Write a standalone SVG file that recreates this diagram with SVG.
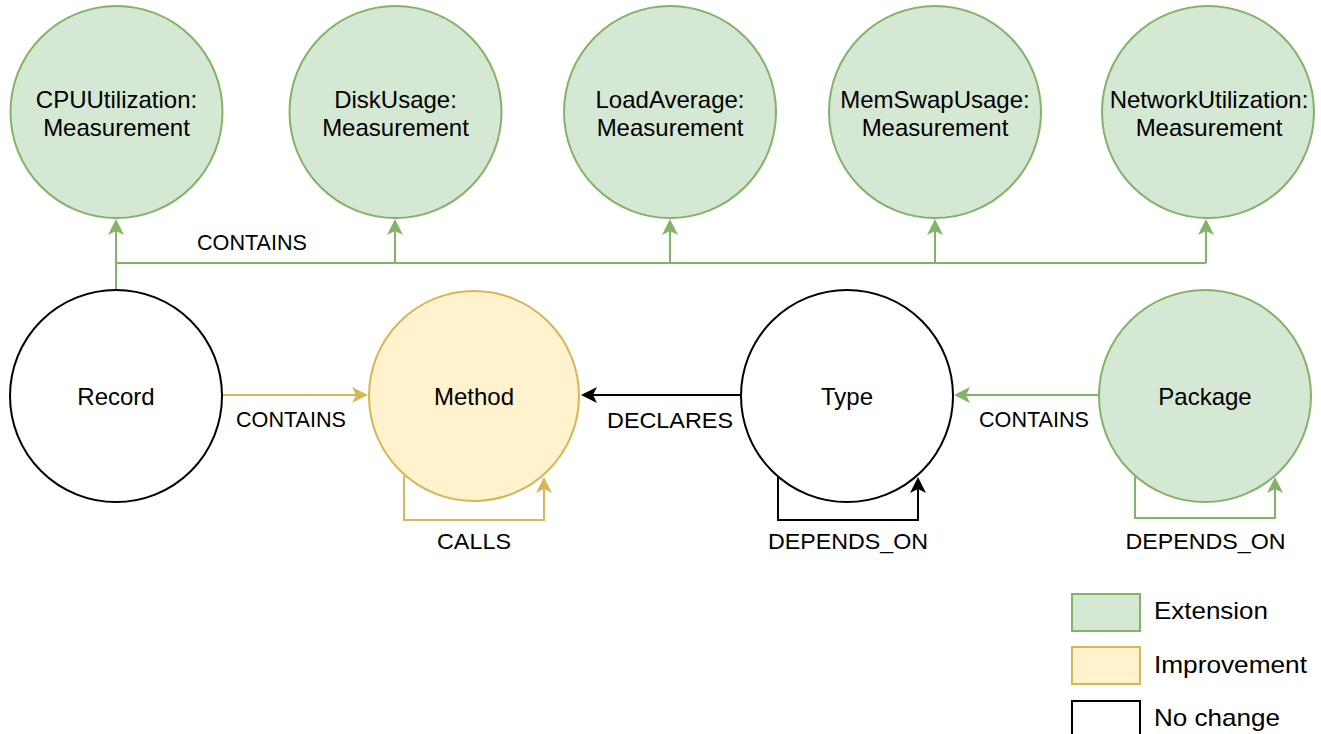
<svg xmlns="http://www.w3.org/2000/svg" width="1321" height="734" viewBox="0 0 1321 734">
<style>
.ext{fill:#d5e8d4;stroke:#82b366;stroke-width:2}
.imp{fill:#fff2cc;stroke:#d6b656;stroke-width:2}
.none{fill:#ffffff;stroke:#000000;stroke-width:2}
.lbl{font-family:"Liberation Sans",Arial,Helvetica,sans-serif;font-size:24px;fill:#000;text-anchor:middle}
.elbl{font-family:"Liberation Sans",Arial,Helvetica,sans-serif;font-size:22px;fill:#000;text-anchor:middle}
.leg{font-family:"Liberation Sans",Arial,Helvetica,sans-serif;font-size:24px;fill:#000}
.eg{fill:none;stroke:#82b366;stroke-width:2}
.ey{fill:none;stroke:#d6b656;stroke-width:2}
.ek{fill:none;stroke:#000000;stroke-width:2}
</style>
<defs>
<marker id="ag" markerUnits="userSpaceOnUse" viewBox="-8 -10 20 20" markerWidth="20" markerHeight="20" refX="0" refY="0" orient="auto">
<path d="M10,0 L-6,-8 L-2,0 L-6,8 Z" fill="#82b366"/>
</marker>
<marker id="ay" markerUnits="userSpaceOnUse" viewBox="-8 -10 20 20" markerWidth="20" markerHeight="20" refX="0" refY="0" orient="auto">
<path d="M10,0 L-6,-8 L-2,0 L-6,8 Z" fill="#d6b656"/>
</marker>
<marker id="ak" markerUnits="userSpaceOnUse" viewBox="-8 -10 20 20" markerWidth="20" markerHeight="20" refX="0" refY="0" orient="auto">
<path d="M10,0 L-6,-8 L-2,0 L-6,8 Z" fill="#000000"/>
</marker>
</defs>

<g id="connectors">
<path class="eg" d="M116,290 V263 H1206"/>
<path class="eg" d="M116,263 V229" marker-end="url(#ag)"/>
<path class="eg" d="M395,263 V229" marker-end="url(#ag)"/>
<path class="eg" d="M670,263 V229" marker-end="url(#ag)"/>
<path class="eg" d="M935,263 V229" marker-end="url(#ag)"/>
<path class="eg" d="M1206,263 V229" marker-end="url(#ag)"/>
<text class="elbl" x="252" y="250" textLength="110" lengthAdjust="spacingAndGlyphs">CONTAINS</text>

<path class="ey" d="M222,395 H358" marker-end="url(#ay)"/>
<text class="elbl" x="291" y="427" textLength="110" lengthAdjust="spacingAndGlyphs">CONTAINS</text>

<path class="ek" d="M741,395 H591" marker-end="url(#ak)"/>
<text class="elbl" x="670" y="428" textLength="126" lengthAdjust="spacingAndGlyphs">DECLARES</text>

<path class="eg" d="M1099,395 H964" marker-end="url(#ag)"/>
<text class="elbl" x="1034" y="427" textLength="110" lengthAdjust="spacingAndGlyphs">CONTAINS</text>

<path class="ey" d="M404,476 V520 H544 V487" marker-end="url(#ay)"/>
<text class="elbl" x="474" y="549" textLength="74" lengthAdjust="spacingAndGlyphs">CALLS</text>

<path class="ek" d="M778,476 V520 H918 V487" marker-end="url(#ak)"/>
<text class="elbl" x="848" y="549" textLength="160" lengthAdjust="spacingAndGlyphs">DEPENDS_ON</text>

<path class="eg" d="M1135,476 V518 H1275 V487" marker-end="url(#ag)"/>
<text class="elbl" x="1205.5" y="549" textLength="160" lengthAdjust="spacingAndGlyphs">DEPENDS_ON</text>
</g>

<g id="cpu">
<circle class="ext" cx="116.5" cy="112" r="106"/>
<text class="lbl" x="116.5" y="108">CPUUtilization:</text>
<text class="lbl" x="116.5" y="136">Measurement</text>
</g>
<g id="disk">
<circle class="ext" cx="395.5" cy="112" r="106"/>
<text class="lbl" x="395.5" y="108">DiskUsage:</text>
<text class="lbl" x="395.5" y="136">Measurement</text>
</g>
<g id="load">
<circle class="ext" cx="670" cy="112" r="106"/>
<text class="lbl" x="670" y="108">LoadAverage:</text>
<text class="lbl" x="670" y="136">Measurement</text>
</g>
<g id="memswap">
<circle class="ext" cx="935" cy="112" r="106"/>
<text class="lbl" x="935" y="108">MemSwapUsage:</text>
<text class="lbl" x="935" y="136">Measurement</text>
</g>
<g id="network">
<circle class="ext" cx="1208" cy="112" r="106"/>
<text class="lbl" x="1209" y="108">NetworkUtilization:</text>
<text class="lbl" x="1209" y="136">Measurement</text>
</g>

<g id="record">
<circle class="none" cx="116" cy="396" r="106"/>
<text class="lbl" x="116" y="405">Record</text>
</g>
<g id="method">
<circle class="imp" cx="474" cy="396" r="105"/>
<text class="lbl" x="474" y="405">Method</text>
</g>
<g id="type">
<circle class="none" cx="847" cy="396" r="106"/>
<text class="lbl" x="847" y="405">Type</text>
</g>
<g id="package">
<circle class="ext" cx="1205" cy="396" r="106"/>
<text class="lbl" x="1205" y="405">Package</text>
</g>

<g id="legend">
<rect class="ext" x="1072" y="594" width="68" height="37"/>
<text class="leg" x="1154" y="619" textLength="114" lengthAdjust="spacingAndGlyphs">Extension</text>
<rect class="imp" x="1072" y="647" width="68" height="37"/>
<text class="leg" x="1154" y="673" textLength="153" lengthAdjust="spacingAndGlyphs">Improvement</text>
<rect class="none" x="1072" y="701" width="68" height="37"/>
<text class="leg" x="1154" y="726" textLength="126" lengthAdjust="spacingAndGlyphs">No change</text>
</g>
</svg>
